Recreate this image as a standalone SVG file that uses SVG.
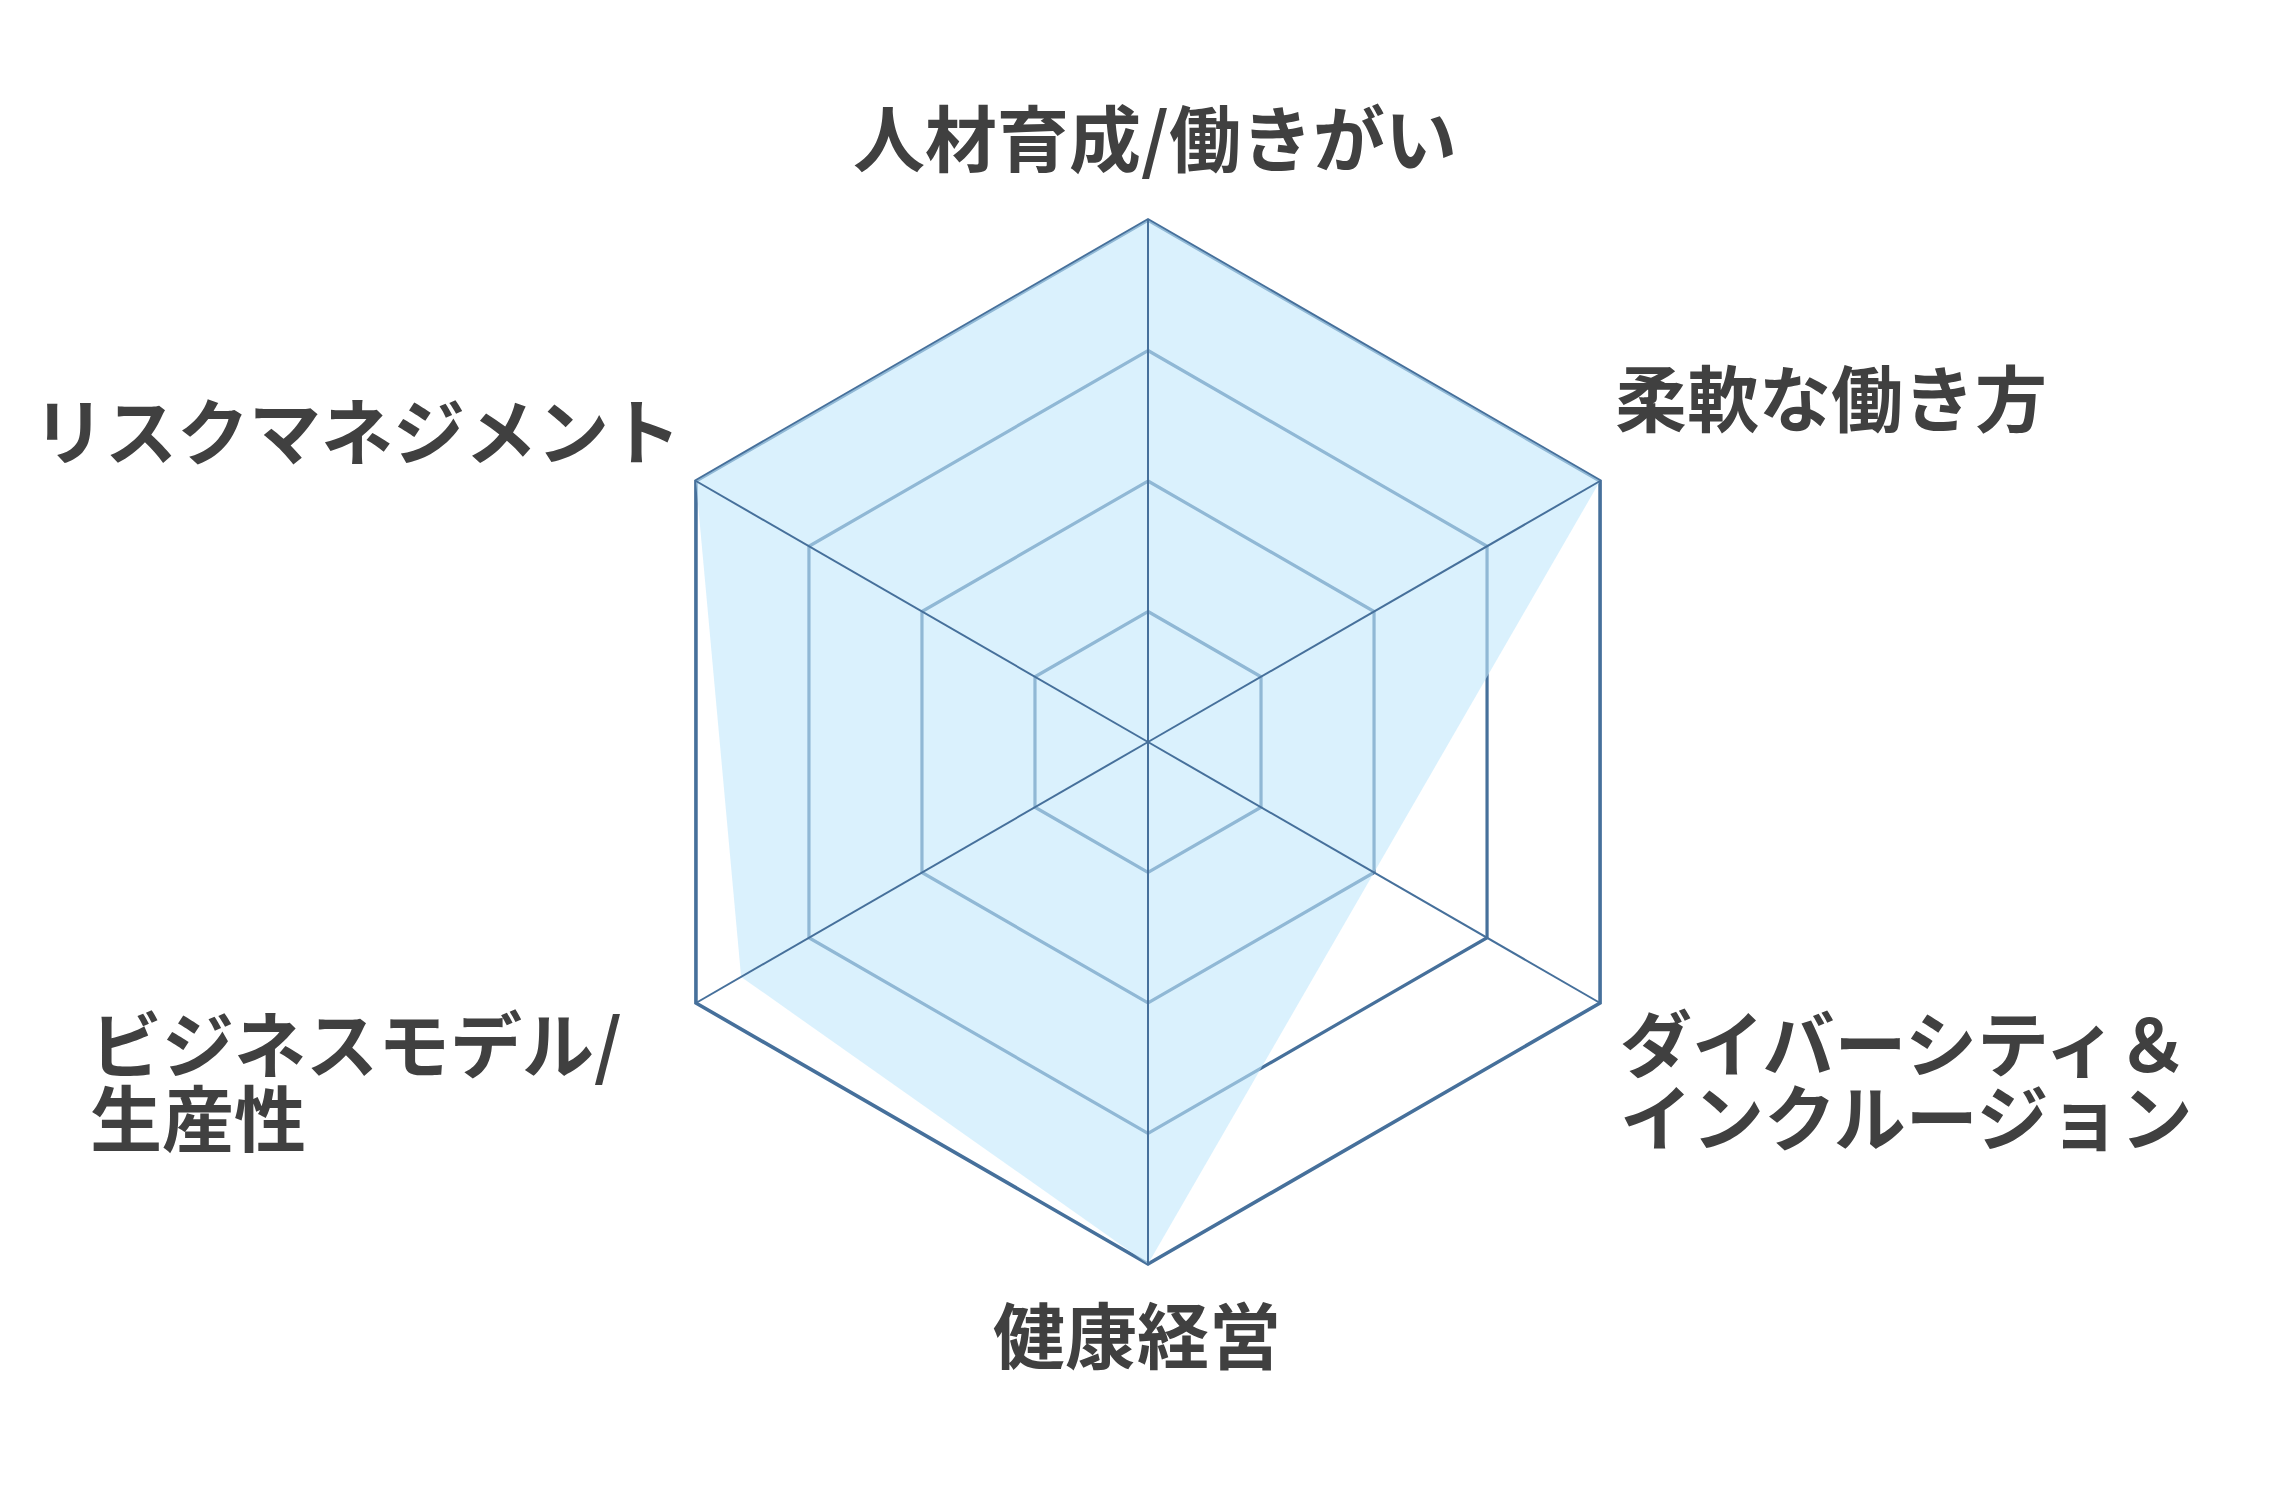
<svg xmlns="http://www.w3.org/2000/svg" width="2285" height="1510" viewBox="0 0 2285 1510">
<style>
.ring{fill:none;stroke:#46709b;stroke-width:3.2;stroke-linejoin:miter}
.outer{stroke-width:3.6}
.axis{stroke:#46709b;stroke-width:2}
.data{fill:#c2e8fb;fill-opacity:0.6;stroke:none}
.lbl{font-family:"Noto Sans CJK JP","Noto Sans",sans-serif;font-weight:700;font-size:72px;fill:#404040}
</style>
<rect width="2285" height="1510" fill="#ffffff"/>
<g id="grid">
<polygon class="ring outer" points="1148,220 1600.07,481 1600.07,1003 1148,1264 695.93,1003 695.93,481"/>
<polygon class="ring" points="1148,350.5 1487.05,546.25 1487.05,937.75 1148,1133.5 808.95,937.75 808.95,546.25"/>
<polygon class="ring" points="1148,481 1374.04,611.5 1374.04,872.5 1148,1003 921.96,872.5 921.96,611.5"/>
<polygon class="ring" points="1148,611.5 1261.02,676.75 1261.02,807.25 1148,872.5 1034.98,807.25 1034.98,676.75"/>
</g>
<g id="data">
<polygon class="data" points="1148,220 1600.07,481 1374.04,872.5 1148,1264 741.14,976.9 695.93,481"/>
</g>
<g id="axes">
<line class="axis" x1="1148" y1="742" x2="1148" y2="220"/>
<line class="axis" x1="1148" y1="742" x2="1600.07" y2="481"/>
<line class="axis" x1="1148" y1="742" x2="1600.07" y2="1003"/>
<line class="axis" x1="1148" y1="742" x2="1148" y2="1264"/>
<line class="axis" x1="1148" y1="742" x2="695.93" y2="1003"/>
<line class="axis" x1="1148" y1="742" x2="695.93" y2="481"/>
</g>
<g id="label-top"><text class="lbl" x="1155" y="166" text-anchor="middle">人材育成/働きがい</text></g>
<g id="label-ur"><text class="lbl" x="1615" y="426">柔軟な働き方</text></g>
<g id="label-lr"><text class="lbl" x="1620" y="1071">ダイバーシティ＆</text><text class="lbl" x="1620" y="1145">インクルージョン</text></g>
<g id="label-bottom"><text class="lbl" x="1137" y="1363" text-anchor="middle">健康経営</text></g>
<g id="label-ll"><text class="lbl" x="90" y="1072">ビジネスモデル/</text><text class="lbl" x="90" y="1146">生産性</text></g>
<g id="label-ul"><text class="lbl" x="681" y="459" text-anchor="end">リスクマネジメント</text></g>
</svg>
